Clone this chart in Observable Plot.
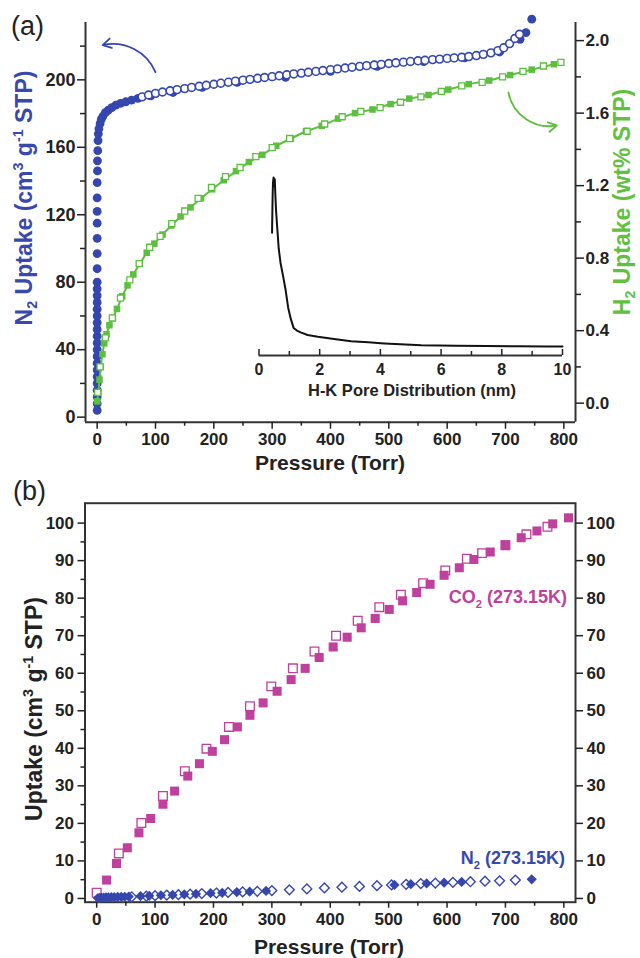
<!DOCTYPE html>
<html><head><meta charset="utf-8">
<script src="https://cdn.jsdelivr.net/npm/d3@7"></script>
<script src="https://cdn.jsdelivr.net/npm/@observablehq/plot@0.6"></script>
<style>
body{margin:0;background:#fff;}
#wrap{position:relative;width:640px;height:958px;background:#fff;font-family:"Liberation Sans",Arial,sans-serif;color:#222;}
.layer{position:absolute;}
.t{position:absolute;white-space:nowrap;font-weight:bold;line-height:1;}
.rot{transform:translate(-50%,-50%) rotate(-90deg);}
.ctr{transform:translate(-50%,-50%);}
sub,sup{font-size:0.62em;line-height:0;}
</style></head><body>
<div id="wrap">
 <div id="pa" class="layer" style="left:0;top:0"></div>
 <div id="pa2" class="layer" style="left:0;top:0"></div>
 <div id="pin" class="layer" style="left:230px;top:165px"></div>
 <div id="pb" class="layer" style="left:0;top:460px"></div>
 <div class="t" style="left:11px;top:13px;font-weight:normal;font-size:27px">(a)</div>
 <div class="t" style="left:13px;top:478px;font-weight:normal;font-size:27px">(b)</div>
 <div class="t rot" style="left:24px;top:198px;font-size:23px;color:#3848ad">N<sub>2</sub> Uptake (cm<sup>3</sup> g<sup>-1</sup> STP)</div>
 <div class="t rot" style="left:622px;top:202px;font-size:23px;color:#62c040">H<sub>2</sub> Uptake (wt% STP)</div>
 <div class="t ctr" style="left:330px;top:462px;font-size:21px">Pressure (Torr)</div>
 <div class="t ctr" style="left:412px;top:390px;font-size:16.5px">H-K Pore Distribution (nm)</div>
 <div class="t rot" style="left:34px;top:709px;font-size:23px">Uptake (cm<sup>3</sup> g<sup>-1</sup> STP)</div>
 <div class="t ctr" style="left:329px;top:946px;font-size:21px">Pressure (Torr)</div>
 <div class="t" style="right:73px;top:588px;font-size:18px;color:#c0409e">CO<sub>2</sub> (273.15K)</div>
 <div class="t" style="right:75px;top:849px;font-size:18px;color:#3848ad">N<sub>2</sub> (273.15K)</div>
</div>
<script>
// ---------- data ----------
const xMajor = [0,100,200,300,400,500,600,700,800];
const xMinor = [50,150,250,350,450,550,650,750];
const aLeftMajor = [0,40,80,120,160,200];
const aLeftMinor = [20,60,100,140,180,220];
const aRightMajor = [0,0.4,0.8,1.2,1.6,2.0];
const aRightMinor = [0.2,0.6,1.0,1.4,1.8];
const bMajor = [0,10,20,30,40,50,60,70,80,90,100];
const bMinor = [5,15,25,35,45,55,65,75,85,95];
const insetMajor = [0,2,4,6,8,10];
const insetMinor = [1,3,5,7,9];

// N2 at 77 K, adsorption (filled) [P Torr, cm3/g]
const n2Ads = [[0,4],[0,8],[0,12],[0,16],[0,20],[0,24],[0,28],[0,32],[0,36],[0,40],[0,44],[0,48],[0,52],[0,56],[0,60],[0,64],[0,68],[0,72],[0,76],[0,80],
 [0,88],[0,97],[0,106],[0,115],[0,122],[0,130],[0,139],[0.5,146],[0.5,152],[1,158],[1.5,164],[2,168],[3,171],[5,174],[7,176.5],[10,178.5],[14,180.5],
 [19,182],[25,183.5],[32,185],[40,186],[49,187],[59,188],[70,189],[92,190.5],[130,192.5],[180,195.5],[240,198.5],[323,201.5],[400,205],[480,208],
 [560,210.8],[630,213],[690,216.5],[725,224],[735,228],[745,236]];
// N2 at 77 K, desorption (open)
const n2Des = [[77,189.9],[88,191],[100,192],[112,192.8],[125,193.5],[137,194.2],[150,194.8],[162,195.5],[175,196.2],[187,196.8],[200,197.4],
 [212,198],[225,198.6],[237,199.2],[250,199.8],[262,200.3],[275,200.9],[287,201.4],[300,201.9],[312,202.4],[325,203],[337,203.5],[350,204],
 [362,204.5],[375,205],[387,205.5],[400,206],[412,206.5],[425,207],[437,207.5],[450,208],[462,208.4],[475,208.8],[487,209.2],[500,209.7],
 [512,210.1],[525,210.5],[537,210.9],[550,211.3],[562,211.6],[575,212],[587,212.3],[600,212.7],[612,213],[625,213.4],[637,213.8],[650,214.4],
 [662,215.1],[675,216],[687,217.3],[697,219],[707,221.5],[716,224.5],[724,227]];
// H2 at 77 K, wt% [P, wt%]
const h2Ads = [[0,0.01],[2,0.06],[4,0.13],[6,0.2],[9,0.27],[12,0.33],[16,0.38],[21,0.43],[27,0.47],[34,0.52],[43,0.59],[52,0.65],[62,0.71],
 [73,0.77],[85,0.83],[98,0.88],[112,0.93],[127,0.98],[143,1.03],[160,1.08],[178,1.13],[197,1.18],[217,1.23],[238,1.28],[260,1.33],[283,1.37],
 [307,1.42],[332,1.46],[358,1.5],[385,1.53],[413,1.57],[442,1.6],[472,1.62],[503,1.65],[535,1.68],[568,1.7],[602,1.73],[637,1.76],[672,1.78],
 [708,1.81],[745,1.84],[783,1.87]];
const h2Des = [[795,1.88],[765,1.86],[730,1.83],[695,1.8],[660,1.77],[625,1.75],[590,1.72],[555,1.69],[520,1.66],[485,1.63],[452,1.61],
 [420,1.58],[390,1.54],[360,1.5],[330,1.46],[300,1.41],[272,1.36],[245,1.3],[220,1.25],[196,1.19],[173,1.13],[150,1.06],[128,0.99],[108,0.92],
 [90,0.86],[72,0.77],[56,0.68],[40,0.58],[26,0.47],[14,0.36],[5,0.2],[1,0.06]];
// H-K pore distribution (inset) [nm, a.u.]
const pore = [[0.43,0.69],[0.44,0.8],[0.45,0.9],[0.46,0.97],[0.48,1.0],[0.5,0.95],[0.52,0.99],[0.54,0.9],[0.56,0.82],[0.6,0.72],[0.65,0.6],
 [0.71,0.52],[0.8,0.44],[0.88,0.365],[0.96,0.27],[1.04,0.21],[1.14,0.155],[1.25,0.14],[1.37,0.13],[1.6,0.115],[1.94,0.105],[2.47,0.093],
 [3.03,0.08],[3.6,0.074],[4.13,0.068],[5.35,0.058],[6.5,0.055],[7.5,0.053],[8.5,0.052],[9.5,0.051],[10,0.05]];
// CO2 at 273.15 K
const co2Ads = [[17,4.9],[34,9.3],[52.5,13.5],[72.4,17.5],[92.5,21.3],[113.5,25.1],[133.5,28.6],[156,32.6],[176,35.9],[198,39.2],[219,42.3],
 [241,45.7],[262.5,48.8],[285,52.1],[309,55.2],[333,58.3],[357,61.3],[381,64.2],[405,67],[429,69.6],[453,72.1],[477,74.6],[501,77],[524,79.3],
 [548,81.5],[571,83.7],[595,86.1],[621,88.1],[646,90.3],[674,92.3],[700,94.2],[727,96.1],[754,97.9],[781,99.8],[808,101.4]];
const co2Des = [[0,1.5],[38,12],[76.5,20.1],[113.5,27.3],[151,33.9],[188,39.9],[226.5,45.7],[262.5,51.2],[299,56.5],[336,61.3],[373,65.8],
 [410,70],[447,74],[484,77.6],[521,80.9],[559,84],[597,87.4],[634,90.5],[660,92],[700,94.1],[736,97],[772,99]];
// N2 at 273.15 K
const n2bAds = [[2,0.1],[5,0.15],[8,0.2],[12,0.25],[16,0.3],[20,0.3],[25,0.35],[30,0.35],[36,0.4],[42,0.4],[48,0.45],[55,0.5],[75,0.6],
 [90,0.7],[110,0.85],[130,0.95],[150,1.1],[170,1.2],[195,1.4],[215,1.5],[240,1.7],[262,1.8],[290,2.0],[510,3.6],[538,3.8],[565,4.0],
 [595,4.2],[625,4.4],[745,5.1]];
const n2bDes = [[60,0.45],[85,0.6],[100,0.75],[120,0.9],[140,1.0],[160,1.15],[180,1.3],[205,1.45],[225,1.6],[250,1.75],[275,1.9],[300,2.1],
 [330,2.3],[360,2.55],[390,2.8],[420,3.0],[450,3.2],[480,3.4],[505,3.6],[530,3.75],[555,3.95],[580,4.1],[610,4.3],[640,4.45],[665,4.6],
 [690,4.7],[717,4.9]];
// annotation arrows (data coordinates)
const n2Arrow = [{x1:100, y1:204.6, x2:9.4, y2:220.6}];
const h2Arrow = [{x1:705, y1:1.714, x2:788, y2:1.532}];

// ---------- scales ----------
const P_DOMAIN = [-20, 820];
const A_N2_DOMAIN = [-3, 234];
const A_H2_DOMAIN = [-0.105, 2.1];
const B_DOMAIN = [-1, 105.3];

const BLUE = "#3546ad", GREEN = "#5dbf3f", MAG = "#c0409e", AX = "#333";
const FONT = "'Liberation Sans', Arial, sans-serif";
const baseStyle = {background:"transparent", fontFamily:FONT, overflow:"visible", color:"#222"};
const px = d => d[0], py = d => d[1];
const frameA = {width:640, height:460, marginLeft:85, marginRight:65, marginTop:22, marginBottom:38.3};

const pa = Plot.plot({
  ...frameA, style: baseStyle,
  x: {domain: P_DOMAIN}, y: {domain: A_N2_DOMAIN},
  marks: [
    Plot.ruleX(P_DOMAIN, {stroke: AX, strokeWidth: 2}),
    Plot.ruleY([A_N2_DOMAIN[0]], {stroke: AX, strokeWidth: 2}),
    Plot.axisX(xMajor, {tickSize: 7, tickPadding: 4, fontSize: 17, fontWeight: "bold", strokeWidth: 1.5, label: null}),
    Plot.axisX(xMinor, {tickSize: 4, tickFormat: () => "", strokeWidth: 1.5, label: null}),
    Plot.axisY(aLeftMajor, {anchor: "left", tickSize: 8, tickPadding: 2, fontSize: 18, fontWeight: "bold", strokeWidth: 1.5, label: null}),
    Plot.axisY(aLeftMinor, {anchor: "left", tickSize: 5, tickFormat: () => "", strokeWidth: 1.5, label: null}),
    Plot.dot(n2Ads, {x: px, y: py, r: 4.4, fill: BLUE}),
    Plot.dot(n2Des, {x: px, y: py, r: 3.9, fill: "white", stroke: BLUE, strokeWidth: 1.6}),
    Plot.arrow(n2Arrow, {x1: "x1", y1: "y1", x2: "x2", y2: "y2", bend: -40, stroke: BLUE, strokeWidth: 1.8, headLength: 8})
  ]
});
document.getElementById("pa").append(pa);

const pa2 = Plot.plot({
  ...frameA, style: baseStyle,
  x: {domain: P_DOMAIN, axis: null}, y: {domain: A_H2_DOMAIN},
  marks: [
    Plot.axisY(aRightMajor, {anchor: "right", tickSize: 8, tickPadding: 2, tickFormat: d3.format(".1f"), fontSize: 17, fontWeight: "bold", strokeWidth: 1.5, label: null}),
    Plot.axisY(aRightMinor, {anchor: "right", tickSize: 5, tickFormat: () => "", strokeWidth: 1.5, label: null}),
    Plot.line(h2Ads, {x: px, y: py, stroke: GREEN, strokeWidth: 2}),
    Plot.dot(h2Ads, {x: px, y: py, symbol: "square", r: 3.7, fill: GREEN}),
    Plot.dot(h2Des, {x: px, y: py, symbol: "square", r: 3.4, fill: "white", stroke: GREEN, strokeWidth: 1.3}),
    Plot.arrow(h2Arrow, {x1: "x1", y1: "y1", x2: "x2", y2: "y2", bend: -45, stroke: GREEN, strokeWidth: 1.8, headLength: 8})
  ]
});
document.getElementById("pa2").append(pa2);

const pin = Plot.plot({
  width: 350, height: 235, marginLeft: 28.5, marginRight: 18, marginTop: 12, marginBottom: 45,
  style: baseStyle,
  x: {domain: [0, 10]}, y: {domain: [0, 1], axis: null},
  marks: [
    Plot.ruleY([0], {stroke: AX, strokeWidth: 2}),
    Plot.axisX(insetMajor, {tickSize: -6, tickPadding: 14, fontSize: 16, fontWeight: "bold", strokeWidth: 1.5, label: null}),
    Plot.axisX(insetMinor, {tickSize: -4, tickFormat: () => "", strokeWidth: 1.5, label: null}),
    Plot.line(pore, {x: px, y: py, stroke: "#111", strokeWidth: 2})
  ]
});
document.getElementById("pin").append(pin);

const pb = Plot.plot({
  width: 640, height: 498, marginLeft: 84.5, marginRight: 65, marginTop: 42.7, marginBottom: 56.3,
  style: baseStyle,
  x: {domain: P_DOMAIN}, y: {domain: B_DOMAIN},
  marks: [
    Plot.frame({stroke: AX, strokeWidth: 2}),
    Plot.axisX(xMajor, {tickSize: 6, tickPadding: 5, fontSize: 17, fontWeight: "bold", strokeWidth: 1.5, label: null}),
    Plot.axisX(xMinor, {tickSize: 4, tickFormat: () => "", strokeWidth: 1.5, label: null}),
    Plot.axisY(bMajor, {anchor: "left", tickSize: 7, tickPadding: 4, fontSize: 17, fontWeight: "bold", strokeWidth: 1.5, label: null}),
    Plot.axisY(bMinor, {anchor: "left", tickSize: 4, tickFormat: () => "", strokeWidth: 1.5, label: null}),
    Plot.axisY(bMajor, {anchor: "right", tickSize: 7, tickPadding: 4, fontSize: 17, fontWeight: "bold", strokeWidth: 1.5, label: null}),
    Plot.dot(co2Des, {x: px, y: py, symbol: "square", r: 4.9, fill: "white", stroke: MAG, strokeWidth: 1.3}),
    Plot.dot(co2Ads, {x: px, y: py, symbol: "square", r: 5.1, fill: MAG}),
    Plot.dot(n2bDes, {x: px, y: py, symbol: "diamond2", r: 4.4, fill: "white", stroke: BLUE, strokeWidth: 1.4}),
    Plot.dot(n2bAds, {x: px, y: py, symbol: "diamond2", r: 4.6, fill: BLUE})
  ]
});
document.getElementById("pb").append(pb);
</script>
</body></html>
